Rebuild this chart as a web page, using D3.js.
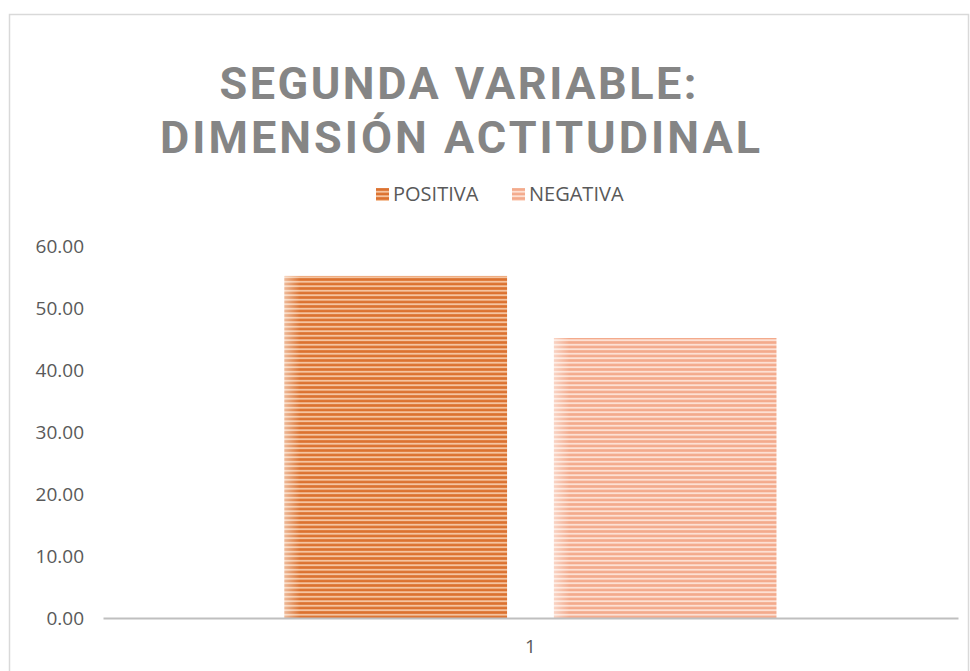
<!DOCTYPE html>
<html>
<head>
<meta charset="utf-8">
<script src="https://cdn.jsdelivr.net/npm/d3@7"></script>
<style>
  body { margin: 0; background: #fff; }
  svg { display: block; }
</style>
</head>
<body>
<svg id="chart" width="970" height="671"></svg>
<script>
// datos del grafico
var categories = ["1"];
var seriesNames = ["POSITIVA", "NEGATIVA"];
var seriesValues = [55.17, 45.16];
var yTicks = [0, 10, 20, 30, 40, 50, 60];
var titleLines = ["SEGUNDA VARIABLE:", "DIMENSIÓN ACTITUDINAL"];

var svg = d3.select("#chart"),
  width = +svg.attr("width"),
  height = +svg.attr("height");

var colors = [
  { dark: "#dc7230", light: "#f5c4a0" },
  { dark: "#f3aa8c", light: "#fde0d3" }
];

var defs = svg.append("defs");

colors.forEach(function(c, i) {
  var p = defs.append("pattern")
    .attr("id", "stripe" + i)
    .attr("patternUnits", "userSpaceOnUse")
    .attr("width", 10)
    .attr("height", 4.5);
  p.append("rect").attr("width", 10).attr("height", 4.5).attr("fill", c.dark);
  p.append("rect").attr("y", 1.8).attr("width", 10).attr("height", 1.9).attr("fill", c.light);
});

var fade = defs.append("linearGradient")
  .attr("id", "fade")
  .attr("x1", 0).attr("x2", 1).attr("y1", 0).attr("y2", 0);
fade.append("stop").attr("offset", "0").attr("stop-color", "#fff").attr("stop-opacity", 0.5);
fade.append("stop").attr("offset", "0.07").attr("stop-color", "#fff").attr("stop-opacity", 0);
fade.append("stop").attr("offset", "1").attr("stop-color", "#fff").attr("stop-opacity", 0);

// marco
svg.append("rect")
  .attr("x", 9.5).attr("y", 14.5)
  .attr("width", 959).attr("height", 680)
  .attr("fill", "none")
  .attr("stroke", "#d9d9d9")
  .attr("stroke-width", 1.5);

// titulo
var titlePos = [{ x: 458, y: 99, len: 477 }, { x: 460, y: 153, len: 600 }];
svg.append("g")
  .selectAll("text")
  .data(titleLines)
  .enter().append("text")
  .attr("x", function(d, i) { return titlePos[i].x; })
  .attr("y", function(d, i) { return titlePos[i].y; })
  .attr("text-anchor", "middle")
  .attr("textLength", function(d, i) { return titlePos[i].len; })
  .attr("lengthAdjust", "spacing")
  .attr("font-family", "'Roboto', sans-serif")
  .attr("font-weight", "bold")
  .attr("font-size", "45px")
  .attr("fill", "#858585")
  .text(function(d) { return d; });

var x0 = 103, x1 = 958, yTop = 246, yBottom = 618;

var x = d3.scaleBand()
  .domain(categories)
  .range([x0, x1])
  .paddingOuter(0.369)
  .paddingInner(0);

var xs = d3.scaleBand()
  .domain(seriesNames)
  .range([0, x.bandwidth()])
  .paddingInner(0.174)
  .paddingOuter(0);

var y = d3.scaleLinear()
  .domain([0, 60])
  .range([yBottom, yTop]);

// eje y (solo etiquetas)
var yAxis = svg.append("g")
  .attr("transform", "translate(" + 84 + ",0)")
  .call(d3.axisLeft(y).tickValues(yTicks).tickSize(0).tickPadding(0).tickFormat(d3.format(".2f")));
yAxis.select(".domain").remove();
yAxis.selectAll("text")
  .attr("font-family", "'Open Sans', sans-serif")
  .attr("font-size", "19px")
  .attr("fill", "#595959");

// barras
var bars = svg.append("g")
  .selectAll("g")
  .data(seriesValues)
  .enter().append("g");

bars.append("rect")
  .attr("x", function(d, i) { return x("1") + xs(seriesNames[i]); })
  .attr("y", function(d) { return y(d); })
  .attr("width", xs.bandwidth())
  .attr("height", function(d) { return y(0) - y(d); })
  .attr("fill", function(d, i) { return "url(#stripe" + i + ")"; });

bars.append("rect")
  .attr("x", function(d, i) { return x("1") + xs(seriesNames[i]); })
  .attr("y", function(d) { return y(d); })
  .attr("width", xs.bandwidth())
  .attr("height", function(d) { return y(0) - y(d); })
  .attr("fill", "url(#fade)");

// eje x
var xAxis = svg.append("g")
  .attr("transform", "translate(0," + yBottom + ")")
  .call(d3.axisBottom(x).tickSize(0).tickPadding(22));
xAxis.select(".domain")
  .attr("stroke", "#bfbfbf")
  .attr("stroke-width", 2);
xAxis.selectAll("text")
  .attr("font-family", "'Open Sans', sans-serif")
  .attr("font-size", "19px")
  .attr("fill", "#595959");

// leyenda
var legendPos = [{ sx: 376, tx: 393 }, { sx: 512, tx: 529 }];
var legend = svg.append("g")
  .selectAll("g")
  .data(seriesNames)
  .enter().append("g");

legend.append("rect")
  .attr("x", function(d, i) { return legendPos[i].sx; })
  .attr("y", 188)
  .attr("width", 13)
  .attr("height", 13)
  .attr("fill", function(d, i) { return "url(#stripe" + i + ")"; });

legend.append("text")
  .attr("x", function(d, i) { return legendPos[i].tx; })
  .attr("y", 201)
  .attr("font-family", "'Open Sans', sans-serif")
  .attr("font-size", "20px")
  .attr("fill", "#595959")
  .text(function(d) { return d; });
</script>
</body>
</html>
